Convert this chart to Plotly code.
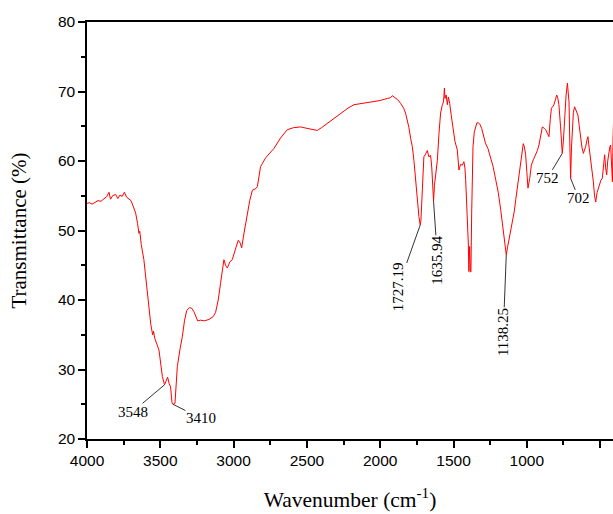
import plotly.graph_objects as go

wavenumber = [4000, 3985, 3965, 3945, 3925, 3905, 3885, 3865, 3850, 3840, 3825, 3805, 3790, 3775, 3760, 3745, 3730, 3715, 3700, 3685,
              3668, 3655, 3646, 3640, 3630, 3612, 3600, 3589, 3575, 3565, 3552, 3546, 3538, 3520, 3509, 3495, 3486, 3471, 3460, 3450,
              3440, 3430, 3420, 3414, 3400, 3390, 3384, 3365, 3350, 3335, 3320, 3300, 3285, 3270, 3259, 3245, 3225, 3200, 3168, 3140,
              3123, 3105, 3089, 3075, 3066, 3055, 3043, 3025, 3009, 2985, 2968, 2955, 2945, 2930, 2918, 2906, 2890, 2872, 2850, 2838,
              2825, 2816, 2780, 2750, 2725, 2680, 2634, 2590, 2543, 2500, 2460, 2429, 2400, 2361, 2320, 2270, 2220, 2179, 2120, 2043,
              2000, 1951, 1930, 1917, 1900, 1880, 1861, 1840, 1827, 1815, 1804, 1792, 1781, 1770, 1762, 1754, 1745, 1736, 1727, 1722,
              1718, 1712, 1708, 1702, 1690, 1679, 1668, 1656, 1648, 1644, 1640, 1636, 1630, 1622, 1616, 1610, 1599, 1588, 1576, 1568,
              1562, 1558, 1550, 1542, 1535, 1526, 1515, 1508, 1490, 1474, 1468, 1463, 1452, 1440, 1429, 1422, 1417, 1410, 1405, 1399,
              1395, 1390, 1385, 1381, 1376, 1371, 1367, 1358, 1349, 1340, 1331, 1320, 1308, 1295, 1281, 1265, 1247, 1230, 1212, 1195,
              1178, 1165, 1156, 1145, 1140, 1132, 1122, 1112, 1099, 1085, 1075, 1065, 1055, 1047, 1035, 1024, 1016, 1008, 1000, 992,
              980, 969, 955, 940, 928, 917, 905, 894, 880, 871, 860, 849, 840, 832, 820, 815, 805, 796, 788, 781,
              770, 758, 750, 742, 732, 723, 716, 712, 706, 701, 695, 689, 682, 674, 665, 651, 642, 633, 624, 614,
              606, 598, 590, 583, 575, 565, 555, 546, 538, 530, 520, 508, 495, 485, 478, 469, 462, 455, 448, 440,
              434, 428, 422, 416, 412, 408]
transmittance = [53.9, 54.0, 53.8, 54.1, 54.3, 54.2, 54.6, 54.9, 55.5, 54.5, 55.0, 55.2, 54.6, 55.1, 54.9, 55.5, 54.8, 54.6, 54.3, 53.5,
                 52.5, 51.0, 49.6, 49.9, 48.0, 45.8, 43.5, 41.4, 38.5, 36.5, 35.0, 35.5, 34.5, 33.5, 32.8, 30.5, 29.0, 27.8, 28.3, 28.9,
                 28.0, 27.5, 25.2, 25.0, 25.1, 28.0, 30.4, 33.0, 34.7, 37.0, 38.5, 38.9, 38.8, 38.3, 37.8, 37.0, 37.1, 37.0, 37.2, 37.6,
                 38.2, 40.0, 42.4, 44.5, 45.8, 45.0, 44.6, 45.5, 45.8, 47.5, 48.6, 48.2, 47.5, 49.5, 51.0, 52.5, 54.3, 55.8, 56.0, 56.3,
                 58.0, 59.2, 60.5, 61.3, 61.8, 63.3, 64.5, 64.8, 64.9, 64.7, 64.5, 64.4, 64.8, 65.4, 66.0, 66.9, 67.6, 68.1, 68.3, 68.5,
                 68.7, 69.0, 69.1, 69.4, 69.1, 68.8, 68.3, 67.6, 66.9, 65.8, 64.8, 63.2, 62.1, 60.1, 58.0, 55.8, 53.8, 52.0, 50.8, 51.5,
                 53.4, 55.5, 57.3, 60.6, 61.0, 61.5, 60.6, 60.8, 59.0, 57.7, 55.5, 54.2, 56.5, 57.7, 58.5, 60.1, 64.0, 66.9, 68.1, 68.5,
                 70.5, 69.0, 69.5, 68.1, 69.2, 68.3, 66.5, 65.4, 62.8, 61.6, 60.0, 58.7, 59.5, 59.4, 59.9, 59.0, 57.3, 54.5, 52.5, 48.2,
                 44.1, 47.7, 44.0, 44.1, 52.5, 58.0, 62.1, 64.2, 64.9, 65.5, 65.5, 65.3, 64.7, 63.8, 62.5, 61.8, 60.6, 59.2, 57.3, 55.5,
                 53.0, 51.0, 49.6, 47.2, 46.5, 47.5, 48.6, 50.0, 51.5, 52.8, 54.5, 56.1, 57.5, 58.9, 61.0, 62.5, 62.0, 60.9, 58.5, 56.1,
                 57.5, 59.4, 60.2, 60.9, 61.5, 62.3, 63.5, 64.9, 64.7, 64.5, 64.0, 63.5, 66.0, 67.6, 67.9, 68.1, 68.8, 69.5, 69.0, 68.1,
                 65.0, 61.1, 63.0, 66.6, 69.5, 71.2, 70.0, 68.5, 62.0, 57.5, 62.0, 65.7, 67.0, 67.8, 67.2, 66.6, 65.0, 63.3, 62.0, 61.1,
                 61.5, 62.1, 63.0, 63.5, 62.0, 60.4, 58.5, 57.0, 55.0, 54.1, 55.5, 56.5, 57.2, 57.5, 59.5, 60.9, 59.0, 58.0, 60.0, 61.3,
                 62.0, 62.3, 59.0, 57.0, 63.0, 66.0]

# Labelled peaks: label text, position on the curve
peak_labels = ["3548", "3410", "1727.19", "1635.94", "1138.25", "752", "702"]
peak_wn = [3471, 3414, 1727, 1636, 1140, 758, 701]
peak_T = [27.8, 25.0, 50.8, 54.2, 46.5, 61.1, 57.5]
# label offsets (pixels) and rotation
label_ax = [-32, 28, -22, 4, -3, -15, 8]
label_ay = [27, 14, 62, 59, 77, 25, 20]
label_angle = [0, 0, -90, -90, -90, 0, 0]

fig = go.Figure()
fig.add_trace(go.Scatter(x=wavenumber, y=transmittance, mode="lines",
                         line=dict(color="#ff0000", width=1), showlegend=False))

for lab, px, py, ax, ay, ang in zip(peak_labels, peak_wn, peak_T, label_ax, label_ay, label_angle):
    fig.add_annotation(x=px, y=py, text=lab, showarrow=True, arrowhead=0, arrowwidth=1,
                       arrowcolor="#333333", ax=ax, ay=ay, textangle=ang, borderpad=0,
                       font=dict(family="Liberation Serif", size=15, color="black"))

axis_font = dict(family="Liberation Sans, Arial", size=15.5, color="black")
fig.update_layout(
    width=613, height=514,
    margin=dict(l=87, r=0, t=22, b=75),
    plot_bgcolor="white", paper_bgcolor="white",
    xaxis=dict(range=[4000, 412], tickvals=[4000, 3500, 3000, 2500, 2000, 1500, 1000, 500],
               ticks="outside", ticklen=7, tickwidth=1.5, tickcolor="black",
               minor=dict(dtick=250, tick0=0, ticks="outside", ticklen=4, tickwidth=1.5, tickcolor="black"),
               showline=True, linecolor="black", linewidth=1.5, mirror=True, showgrid=False, zeroline=False,
               tickfont=axis_font,
               title=dict(text="Wavenumber (cm<sup>-1</sup>)", standoff=24,
                          font=dict(family="Liberation Serif", size=21.5, color="black"))),
    yaxis=dict(range=[20, 80], dtick=10, ticks="outside", ticklen=7, tickwidth=1.5, tickcolor="black",
               minor=dict(dtick=5, ticks="outside", ticklen=4, tickwidth=1.5, tickcolor="black"),
               showline=True, linecolor="black", linewidth=1.5, mirror=False, showgrid=False, zeroline=False,
               tickfont=axis_font,
               title=dict(text="Transmittance (%)", standoff=26,
                          font=dict(family="Liberation Serif", size=21, color="black"))),
)

fig.write_html("out.html")
